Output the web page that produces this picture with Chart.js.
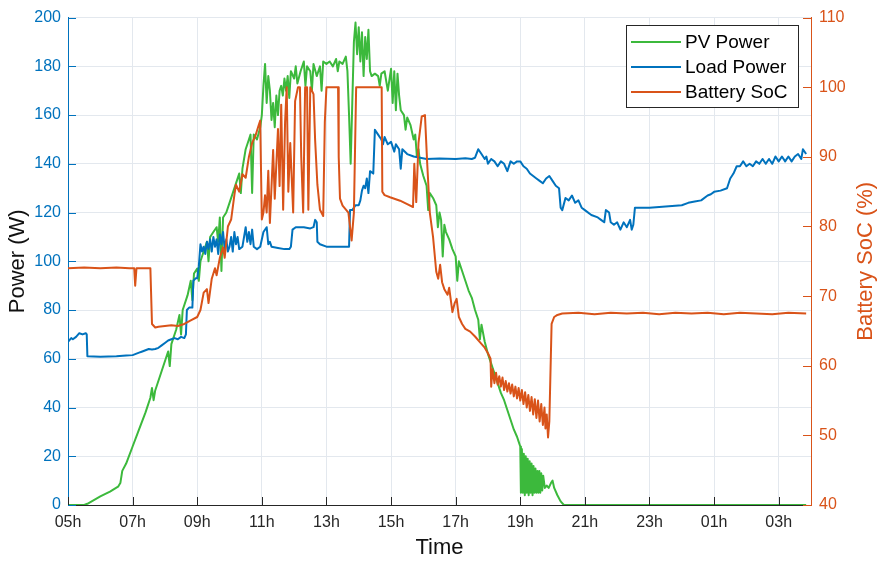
<!DOCTYPE html>
<html>
<head>
<meta charset="utf-8">
<script src="https://cdn.jsdelivr.net/npm/chart.js@4/dist/chart.umd.min.js"></script>
<style>
html,body{margin:0;padding:0;background:#fff;}
#wrap{width:879px;height:561px;}
</style>
</head>
<body>
<div id="wrap"><canvas id="c" width="879" height="561"></canvas></div>
<script>
// ---------- DATA ----------
const xTickValues = [5, 7, 9, 11, 13, 15, 17, 19, 21, 23, 25, 27];
const xTickLabels = ['05h','07h','09h','11h','13h','15h','17h','19h','21h','23h','01h','03h'];
const powerTicks = [0, 20, 40, 60, 80, 100, 120, 140, 160, 180, 200];
const socTicks = [40, 50, 60, 70, 80, 90, 100, 110];

const pvTimes = [5.0,5.5,5.6,6.0,6.3,6.55,6.62,6.68,6.8,7.0,7.2,7.4,7.55,7.6,7.65,7.7,7.9,8.1,8.15,8.2,8.35,8.45,8.5,8.55,8.7,8.8,8.85,8.9,9.0,9.05,9.1,9.2,9.3,9.35,9.4,9.5,9.6,9.65,9.7,9.75,9.8,9.9,10.0,10.1,10.2,10.3,10.35,10.4,10.5,10.6,10.65,10.7,10.75,10.85,10.95,11.0,11.05,11.1,11.15,11.2,11.25,11.3,11.35,11.4,11.45,11.5,11.55,11.6,11.65,11.7,11.75,11.8,11.85,11.9,12.0,12.05,12.1,12.2,12.3,12.35,12.4,12.5,12.55,12.6,12.7,12.8,12.85,12.9,13.0,13.1,13.2,13.3,13.35,13.4,13.5,13.6,13.65,13.7,13.75,13.8,13.85,13.9,13.95,14.0,14.05,14.1,14.15,14.2,14.25,14.3,14.35,14.4,14.5,14.6,14.65,14.7,14.8,14.9,15.0,15.05,15.1,15.15,15.2,15.25,15.3,15.4,15.45,15.5,15.6,15.7,15.75,15.8,15.85,15.9,16.0,16.1,16.15,16.2,16.3,16.4,16.45,16.5,16.55,16.6,16.65,16.7,16.8,16.9,17.0,17.05,17.1,17.2,17.3,17.4,17.5,17.6,17.7,17.75,17.8,17.9,18.0,18.1,18.2,18.3,18.4,18.5,18.6,18.7,18.8,18.9,18.95,19.0,19.02,19.05,19.08,19.11,19.14,19.17,19.2,19.23,19.26,19.29,19.32,19.35,19.38,19.41,19.44,19.47,19.5,19.53,19.56,19.59,19.62,19.65,19.68,19.71,19.76,19.82,19.88,19.95,20.0,20.05,20.15,20.25,20.35,27.85];
const pvPower = [0,0,0.5,3.5,5.5,7.5,9,14,17,24,31,38,44,48,43,47,55,63,57,66,72,78,70,80,86,92,84,95,97,92,100,104,108,100,110,112,114,108,118,96,118,120,124,128,132,136,128,138,146,150,152,128,152,150,155,160,172,181,165,176,170,158,165,155,168,160,170,172,168,175,170,176,167,178,175,180,173,178,182,172,180,178,170,181,176,180,170,182,181,182,180,183,178,182,181,184,178,160,140,165,190,198,185,196,182,194,176,192,183,195,178,176,177,176,172,177,178,170,179,165,178,162,177,168,162,160,154,159,156,150,152,143,146,140,135,131,121,128,126,123,114,120,117,102,115,112,109,105,102,92,100,96,92,88,85,80,76,68,74,67,62,58,54,50,46,43,39,35,31,28,26,24,5,23,5,21,4,20,5,19,4,18,5,17,4,16,5,15,5,14,5,14,5,13,6,12,7,8,7,9,10,7,4,1.5,0,0];

const loadTimes = [5.0,5.1,5.15,5.25,5.35,5.45,5.55,5.58,5.6,6.0,6.5,6.8,7.0,7.1,7.2,7.3,7.4,7.5,7.6,7.7,7.8,7.9,8.0,8.1,8.2,8.3,8.4,8.5,8.6,8.65,8.68,8.75,8.85,8.88,8.95,9.0,9.05,9.1,9.15,9.2,9.25,9.3,9.35,9.4,9.45,9.5,9.55,9.6,9.65,9.7,9.75,9.8,9.85,9.9,9.95,10.0,10.05,10.1,10.15,10.2,10.25,10.3,10.4,10.45,10.5,10.55,10.6,10.65,10.7,10.75,10.85,10.95,11.05,11.15,11.2,11.25,11.3,11.5,11.7,11.85,11.9,11.95,12.05,12.3,12.5,12.6,12.65,12.7,12.72,12.8,13.0,13.4,13.7,13.73,13.8,13.9,14.0,14.05,14.1,14.15,14.2,14.25,14.3,14.35,14.45,14.5,14.6,14.7,14.75,14.8,14.9,15.0,15.1,15.15,15.25,15.3,15.35,15.5,15.7,15.9,16.1,16.5,17.0,17.3,17.5,17.6,17.7,17.8,17.9,17.95,18.0,18.1,18.2,18.3,18.4,18.5,18.6,18.7,18.8,18.9,19.0,19.1,19.2,19.3,19.4,19.5,19.6,19.7,19.8,19.9,20.0,20.1,20.2,20.25,20.3,20.4,20.5,20.6,20.7,20.8,20.9,21.0,21.2,21.4,21.5,21.6,21.65,21.75,21.8,21.9,22.0,22.1,22.2,22.3,22.4,22.45,22.5,22.55,23.0,23.5,24.0,24.2,24.4,24.6,24.8,24.9,25.0,25.2,25.4,25.5,25.6,25.7,25.8,25.9,26.0,26.1,26.2,26.3,26.4,26.5,26.6,26.7,26.8,26.9,27.0,27.1,27.2,27.3,27.4,27.5,27.6,27.7,27.75,27.85];
const loadPower = [67,68.5,68,69,70.5,70,70.5,70,61,60.8,61,61.3,61.5,62,62.5,63,63.5,64,63.8,64,64.5,65.5,66.5,67.5,68,68.5,68,69,68.5,70,80,81,81,92,93,93,98,107,104,106,103,108,105,109,104,110,106,109,103,111,107,112,105,109,104,106,110,104,112,107,110,105,106,110,114,108,112,107,113,106,105,106,112,114,107,108,106,105.5,105,105,106,113,114,114,113.5,114,117,116,108,107,106,106,106,121,121,123,123,125,129,131,130,134,128,137,136,154,152,150,148,151,148,149,145,148,146,138,146,144,143,142.5,142,142.2,142,142.3,142,142.5,146,144,142,143,140,142,141,139,141,140,137,141,140,141,141,139,138,136,135,134,133,132,134,135,133,131,130,122,121,126,125,127,124,125,122,121,119,118,117,116,121,120,116,115,116,113,116,114,117,113,115,122,122,122.5,123,124,124.5,125,127,127.5,128.5,129,130,134,136,139,139,141,139,140,139,141,140,142,140,142,140,143,141,143,141,143,141,143,144,142,146,144];

const socTimes = [5.0,5.5,6.0,6.5,6.9,7.05,7.08,7.12,7.55,7.6,7.7,7.8,8.0,8.2,8.4,8.6,8.8,9.0,9.1,9.2,9.3,9.35,9.45,9.55,9.6,9.7,9.8,9.85,9.95,10.05,10.15,10.2,10.3,10.4,10.5,10.6,10.7,10.8,10.9,10.95,11.0,11.05,11.1,11.15,11.2,11.25,11.35,11.4,11.5,11.55,11.6,11.66,11.72,11.77,11.82,11.88,11.97,12.03,12.12,12.18,12.22,12.28,12.34,12.4,12.44,12.5,12.6,12.65,12.72,12.8,12.9,12.95,13.0,13.36,13.38,13.42,13.5,13.68,13.78,13.85,13.92,14.71,14.73,14.8,14.97,15.28,15.5,15.68,15.72,15.78,15.85,15.95,16.05,16.12,16.2,16.3,16.4,16.46,16.52,16.58,16.65,16.75,16.8,16.9,16.97,17.03,17.1,17.2,17.3,17.45,17.6,17.75,17.9,18.0,18.08,18.1,18.14,18.2,18.25,18.3,18.35,18.4,18.45,18.5,18.55,18.6,18.65,18.7,18.75,18.8,18.85,18.9,18.95,19.0,19.05,19.1,19.15,19.2,19.25,19.3,19.35,19.4,19.45,19.5,19.55,19.6,19.65,19.7,19.75,19.78,19.82,19.86,19.9,19.94,19.97,20.05,20.15,20.3,20.8,21.3,21.8,22.3,22.8,23.3,23.8,24.3,24.8,25.3,25.8,26.3,26.8,27.3,27.85];
const socPercent = [74,74.1,74,74.1,74,74,71.5,74,74,66,65.5,65.6,65.7,65.8,65.7,66,66.5,67,68,70.5,71,69,72.5,74,73,75.5,77,75.5,80,81,84.5,86,85,87.5,87,90,92,93,94.5,95.2,81,82,84.5,82,88,80.5,91,84,94,85.8,97.5,82.4,95,100,85,92,82,98,100,100,90,82,100,100,82.4,100,99,92.4,86,82.4,81.5,95,100,100,90,84,83,82,78,82,100,100,85,84.5,84.2,83.7,83.2,82.8,89,83.5,92,95.8,96,89,82,78.5,73.5,72.5,74.5,72,71,70.2,71.2,67.7,69,69.6,67,66,65.3,64.9,64.2,63.4,62.6,61.8,61,57,59.5,57.5,59,57.3,58.5,57,58.3,56.5,57.8,56.3,57.5,56,57.3,55.6,57,55.3,56.8,55,56.5,54.5,56.2,54,55.8,53.5,55.5,53,55.2,52.5,55,52,54.5,51.5,54,51,53,49.7,52,60,66,67,67.3,67.5,67.6,67.4,67.6,67.5,67.6,67.4,67.6,67.5,67.6,67.4,67.6,67.5,67.4,67.6,67.5];

const seriesLabels = ['PV Power', 'Load Power', 'Battery SoC'];
const axisTitles = {x: 'Time', y: 'Power (W)', y2: 'Battery SoC (%)'};

// ---------- STYLE ----------
const GREEN = '#3cb93c', BLUE = '#0072BD', ORANGE = '#D95319';
const FONT = "'Liberation Sans', Arial, Helvetica, sans-serif";
const GRID = '#e3e8ee';

const zip = (xs, ys) => xs.map((x, i) => ({x: x, y: ys[i]}));

const bgPlugin = {
  id: 'bg',
  beforeDraw(chart) {
    const ctx = chart.ctx;
    ctx.save(); ctx.fillStyle = '#fff'; ctx.fillRect(0, 0, chart.width, chart.height); ctx.restore();
  }
};

const decoPlugin = {
  id: 'deco',
  afterDraw(chart) {
    const ctx = chart.ctx;
    const {x, y, y2} = chart.scales;
    const a = chart.chartArea;
    const L = 8;
    ctx.save();
    ctx.lineWidth = 1;
    ctx.strokeStyle = '#262626';
    x.ticks.forEach(t => {
      const px = Math.round(x.getPixelForValue(t.value)) + 0.5;
      ctx.beginPath(); ctx.moveTo(px, a.bottom); ctx.lineTo(px, a.bottom - L); ctx.stroke();
    });
    ctx.strokeStyle = BLUE;
    y.ticks.forEach(t => {
      const py = Math.round(y.getPixelForValue(t.value)) + 0.5;
      ctx.beginPath(); ctx.moveTo(a.left, py); ctx.lineTo(a.left + L, py); ctx.stroke();
    });
    ctx.strokeStyle = ORANGE;
    y2.ticks.forEach(t => {
      const py = Math.round(y2.getPixelForValue(t.value)) + 0.5;
      ctx.beginPath(); ctx.moveTo(a.right, py); ctx.lineTo(a.right - L, py); ctx.stroke();
    });
    ctx.fillStyle = ORANGE;
    ctx.font = '22px ' + FONT;
    ctx.textAlign = 'center';
    ctx.textBaseline = 'middle';
    ctx.translate(y2.right - 13, (a.top + a.bottom) / 2);
    ctx.rotate(-Math.PI / 2);
    ctx.fillText(axisTitles.y2, 0, 0);
    ctx.restore();

    const bx = 626, by = 25, bw = 172, bh = 82;
    ctx.save();
    ctx.fillStyle = '#fff';
    ctx.fillRect(bx, by, bw, bh);
    ctx.strokeStyle = '#262626';
    ctx.lineWidth = 1;
    ctx.strokeRect(bx + 0.5, by + 0.5, bw, bh);
    const colors = [GREEN, BLUE, ORANGE];
    ctx.font = '19px ' + FONT;
    ctx.textAlign = 'left';
    ctx.textBaseline = 'middle';
    seriesLabels.forEach((lab, i) => {
      const ry = by + 17 + i * 25;
      ctx.strokeStyle = colors[i];
      ctx.lineWidth = 2;
      ctx.beginPath(); ctx.moveTo(bx + 5, ry); ctx.lineTo(bx + 55, ry); ctx.stroke();
      ctx.fillStyle = '#000';
      ctx.fillText(lab, bx + 59, ry + 1);
    });
    ctx.restore();
  }
};

new Chart(document.getElementById('c'), {
  type: 'line',
  data: {
    datasets: [
      {label: seriesLabels[0], data: zip(pvTimes, pvPower), yAxisID: 'y', borderColor: GREEN, borderWidth: 2, order: 2},
      {label: seriesLabels[1], data: zip(loadTimes, loadPower), yAxisID: 'y', borderColor: BLUE, borderWidth: 2, order: 1},
      {label: seriesLabels[2], data: zip(socTimes, socPercent), yAxisID: 'y2', borderColor: ORANGE, borderWidth: 2, order: 0}
    ]
  },
  options: {
    responsive: false,
    devicePixelRatio: 1,
    animation: false,
    elements: {point: {radius: 0}, line: {tension: 0, borderJoinStyle: 'round'}},
    layout: {padding: {top: 13, left: 0, right: 0, bottom: 0}},
    plugins: {legend: {display: false}, tooltip: {enabled: false}},
    scales: {
      x: {
        type: 'linear', min: 5, max: 28,
        afterBuildTicks: s => { s.ticks = xTickValues.map(v => ({value: v})); },
        afterFit: s => { s.height = 56; },
        ticks: {
          autoSkip: false, maxRotation: 0, padding: 8, color: '#262626',
          font: {family: FONT, size: 16},
          callback: (v) => { const i = xTickValues.indexOf(v); return i >= 0 ? xTickLabels[i] : ''; }
        },
        grid: {color: GRID, drawTicks: false},
        border: {display: true, color: '#262626', width: 1},
        title: {display: true, text: axisTitles.x, color: '#111', font: {family: FONT, size: 22}, padding: {top: 0, bottom: 0}}
      },
      y: {
        type: 'linear', position: 'left', min: 0, max: 200,
        afterBuildTicks: s => { s.ticks = powerTicks.map(v => ({value: v})); },
        afterFit: s => { s.width = 68; },
        ticks: {padding: 7, color: BLUE, font: {family: FONT, size: 16}},
        grid: {color: GRID, drawTicks: false},
        border: {display: true, color: BLUE, width: 1},
        title: {display: true, text: axisTitles.y, color: '#111', font: {family: FONT, size: 22}, padding: {top: 5, bottom: 0}}
      },
      y2: {
        type: 'linear', position: 'right', min: 40, max: 110,
        afterBuildTicks: s => { s.ticks = socTicks.map(v => ({value: v})); },
        afterFit: s => { s.width = 68; },
        ticks: {padding: 8, color: ORANGE, font: {family: FONT, size: 16}},
        grid: {display: false, drawTicks: false},
        border: {display: true, color: ORANGE, width: 1},
        title: {display: false}
      }
    }
  },
  plugins: [bgPlugin, decoPlugin]
});
</script>
</body>
</html>
